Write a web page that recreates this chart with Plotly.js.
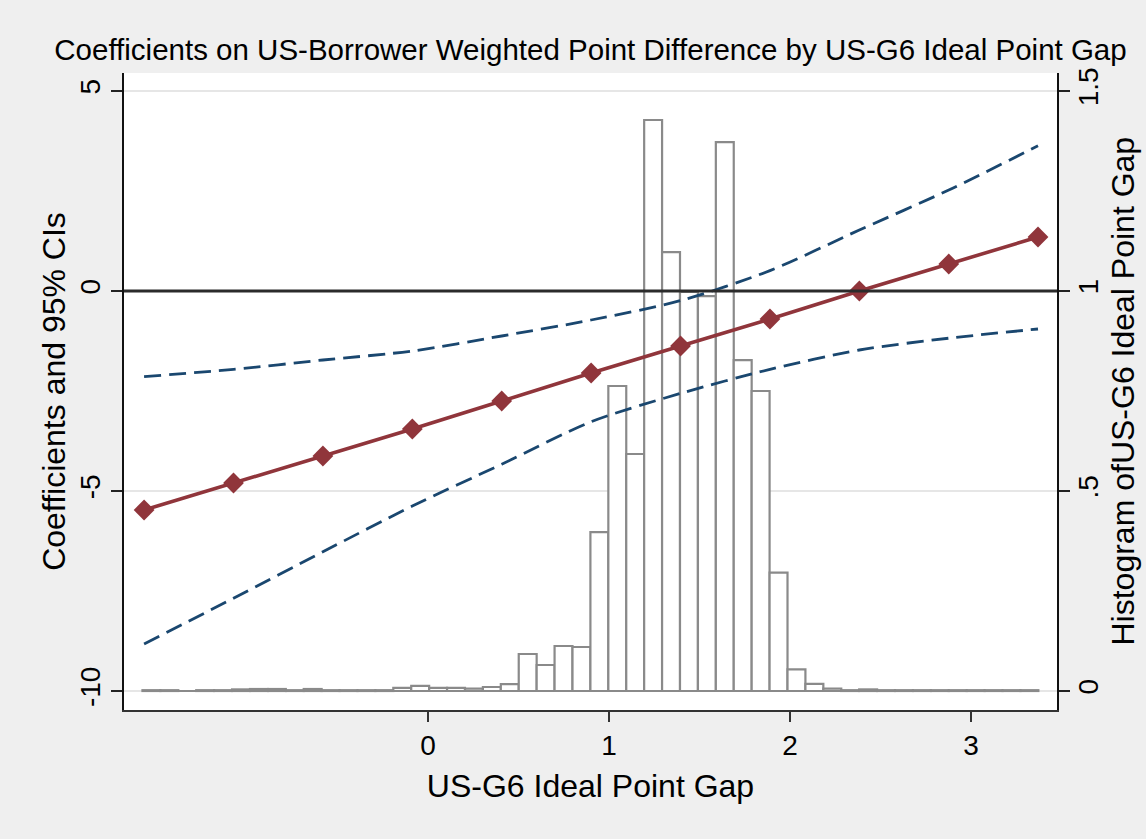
<!DOCTYPE html>
<html><head><meta charset="utf-8">
<script src="https://cdn.plot.ly/plotly-3.0.1.min.js"></script>
<style>html,body{margin:0;padding:0;background:#efefef;}</style>
</head><body><div id="chart" style="width:1146px;height:839px;"></div>
<script>
// Coefficient estimates evaluated at US-G6 ideal point gap values
const gapPoints = [-1.569, -1.075, -0.581, -0.087, 0.407, 0.901, 1.395, 1.889, 2.383, 2.877, 3.370];
const coefficients = [-5.475, -4.8, -4.125, -3.45, -2.75, -2.05, -1.375, -0.7, 0.0, 0.675, 1.35];
const upperCI = [-2.14, -1.96, -1.725, -1.5, -1.125, -0.725, -0.24, 0.51, 1.525, 2.525, 3.63];
const lowerCI = [-8.825, -7.68, -6.52, -5.375, -4.33, -3.27, -2.56, -1.96, -1.475, -1.18, -0.95];

// Histogram of US-G6 ideal point gap (density)
const histBinStart = -1.578;
const histBinWidth = 0.099;
const histDensity = [
  0.002, 0.002, 0, 0.002, 0.002, 0.004, 0.005, 0.005, 0.002, 0.005,
  0.002, 0.002, 0.002, 0.002, 0.008, 0.013, 0.008, 0.008, 0.006, 0.010,
  0.017, 0.0925, 0.065, 0.1125, 0.11, 0.397, 0.7625, 0.5925, 1.4275, 1.097,
  0.998, 0.987, 1.372, 0.827, 0.75, 0.296, 0.054, 0.018, 0.006, 0.002,
  0.004, 0.002, 0.002, 0.002, 0.002, 0.002, 0.002, 0.002, 0.002, 0.002
];

const leftTicks = [-10, -5, 0, 5];
const leftTickText = ['-10', '-5', '0', '5'];
const rightTicks = [0, 0.5, 1, 1.5];
const rightTickText = ['0', '.5', '1', '1.5'];
const xTicks = [0, 1, 2, 3];
const rightTitle = 'Histogram ofUS-G6 Ideal Point Gap';

const binCenters = histDensity.map((_, i) => histBinStart + (i + 0.5) * histBinWidth);

const FONT = 'Liberation Sans, Arial, Helvetica, sans-serif';
const red = '#90353b';
const navy = '#1a476f';

const traces = [
  {
    type: 'bar', x: binCenters, y: histDensity, width: histBinWidth,
    xaxis: 'x', yaxis: 'y',
    marker: {color: '#ffffff', line: {color: '#8a8a8a', width: 2.2}},
    hoverinfo: 'skip', showlegend: false
  },
  {
    type: 'scatter', mode: 'lines', x: gapPoints, y: upperCI,
    xaxis: 'x', yaxis: 'y2',
    line: {color: navy, width: 2.8, dash: '17px,8px', shape: 'spline', smoothing: 0.8},
    showlegend: false
  },
  {
    type: 'scatter', mode: 'lines', x: gapPoints, y: lowerCI,
    xaxis: 'x', yaxis: 'y2',
    line: {color: navy, width: 2.8, dash: '17px,8px', shape: 'spline', smoothing: 0.8},
    showlegend: false
  },
  {
    type: 'scatter', mode: 'lines+markers', x: gapPoints, y: coefficients,
    xaxis: 'x', yaxis: 'y2',
    line: {color: red, width: 3.6},
    marker: {symbol: 'diamond', size: 16, color: red},
    showlegend: false
  }
];

const layout = {
  width: 1146, height: 839,
  paper_bgcolor: '#efefef', plot_bgcolor: '#ffffff',
  margin: {l: 124, r: 89, t: 73, b: 129},
  font: {family: FONT, color: '#000'},
  showlegend: false,
  bargap: 0,
  title: {
    text: 'Coefficients on US-Borrower Weighted Point Difference by US-G6 Ideal Point Gap',
    font: {family: FONT, size: 29.5, color: '#000'},
    x: 0.5, xref: 'paper', xanchor: 'center',
    y: 1 - 50 / 839, yref: 'container', yanchor: 'middle'
  },
  xaxis: {
    range: [-1.68, 3.475],
    tickmode: 'array', tickvals: xTicks, ticktext: xTicks.map(String),
    ticks: 'outside', ticklen: 10, tickwidth: 1.5, tickcolor: '#333',
    tickfont: {family: FONT, size: 28},
    showline: true, linecolor: '#333', linewidth: 1.5,
    showgrid: false, zeroline: false,
    title: {text: 'US-G6 Ideal Point Gap', font: {family: FONT, size: 32}, standoff: 14}
  },
  yaxis: {
    side: 'right', anchor: 'x',
    range: [-0.0475, 1.545],
    tickmode: 'array', tickvals: rightTicks, ticktext: rightTickText,
    tickangle: -90, ticklabelstandoff: -6,
    ticks: 'outside', ticklen: 11, tickwidth: 1.5, tickcolor: '#222',
    tickfont: {family: FONT, size: 28},
    showline: true, linecolor: '#111', linewidth: 2,
    showgrid: true, gridcolor: '#e6e6e6', gridwidth: 2,
    zeroline: false
  },
  yaxis2: {
    overlaying: 'y', side: 'left', anchor: 'x',
    range: [-10.475, 5.45],
    tickmode: 'array', tickvals: leftTicks, ticktext: leftTickText,
    tickangle: -90,
    ticks: 'outside', ticklen: 11, tickwidth: 1.5, tickcolor: '#222',
    tickfont: {family: FONT, size: 28},
    showline: true, linecolor: '#111', linewidth: 2,
    showgrid: false, zeroline: false,
    title: {text: 'Coefficients and 95% CIs', font: {family: FONT, size: 32}, standoff: 0}
  },
  annotations: [
    {text: rightTitle, xref: 'paper', yref: 'paper', x: (1122 - 124) / 933, y: 0.5,
     xanchor: 'center', yanchor: 'middle', textangle: -90, showarrow: false,
     font: {family: FONT, size: 32, color: '#000'}}
  ],
  shapes: [
    {type: 'line', xref: 'paper', x0: 0, x1: 1, yref: 'y2', y0: 0, y1: 0,
     line: {color: '#2b2b2b', width: 3}, layer: 'above'}
  ]
};

Plotly.newPlot('chart', traces, layout, {displayModeBar: false, staticPlot: true});
</script>
</body></html>
